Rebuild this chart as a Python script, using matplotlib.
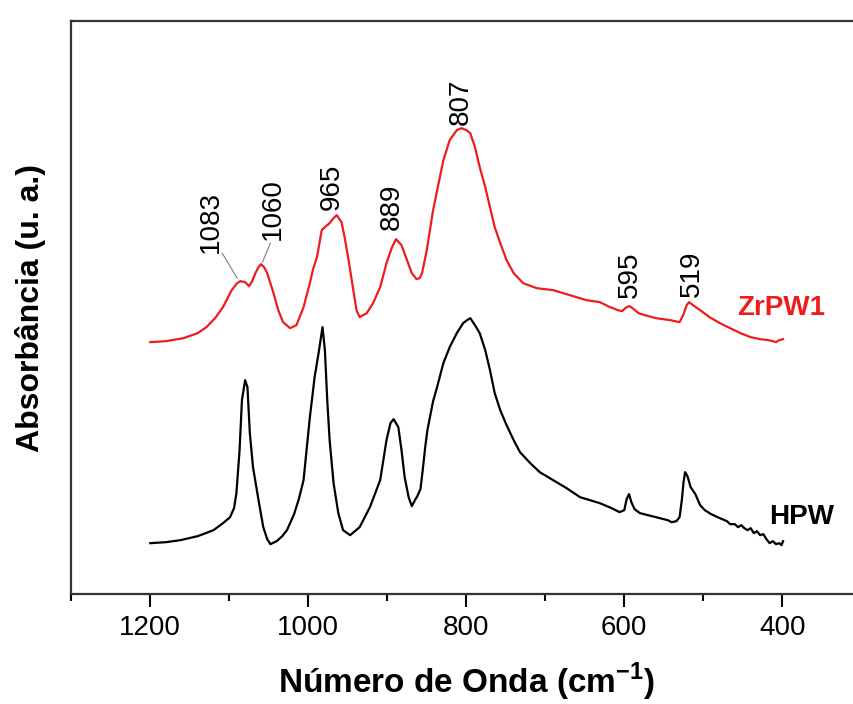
import numpy as np
import matplotlib.pyplot as plt

plt.rcParams['font.family'] = ['Liberation Sans', 'DejaVu Sans']

# ZrPW1 spectrum (red)
wn_zr = [1200, 1180, 1158, 1140, 1129, 1118, 1108, 1097, 1090, 1086, 1080, 1075, 1071,
         1067, 1063, 1060, 1056, 1052, 1044, 1038, 1032, 1023, 1015, 1006, 998, 994, 989,
         983, 979, 973, 968, 964, 958, 954, 949, 943, 939, 935, 926, 918, 909, 901, 894,
         889, 882, 875, 869, 863, 859, 856, 850, 848, 842, 835, 829, 821, 812, 806, 800,
         795, 789, 783, 776, 770, 764, 757, 749, 740, 728, 711, 690, 669, 648, 631, 618,
         608, 603, 597, 593, 588, 582, 574, 560, 542, 530, 525, 521, 518, 513, 504, 492,
         479, 466, 453, 440, 428, 418, 412, 408, 404, 399]
abs_zr = [2.52, 2.53, 2.56, 2.61, 2.67, 2.76, 2.87, 3.04, 3.11, 3.13, 3.12, 3.08, 3.13,
          3.21, 3.27, 3.30, 3.27, 3.21, 3.01, 2.84, 2.72, 2.66, 2.69, 2.87, 3.11, 3.25, 3.37,
          3.64, 3.67, 3.71, 3.76, 3.79, 3.72, 3.57, 3.34, 3.04, 2.84, 2.77, 2.81, 2.91, 3.07,
          3.31, 3.47, 3.55, 3.49, 3.34, 3.21, 3.15, 3.16, 3.21, 3.44, 3.54, 3.84, 4.11, 4.34,
          4.54, 4.64, 4.66, 4.64, 4.61, 4.47, 4.27, 4.07, 3.87, 3.67, 3.51, 3.34, 3.21, 3.11,
          3.06, 3.04, 2.99, 2.94, 2.92, 2.87, 2.84, 2.83, 2.87, 2.88, 2.85, 2.81, 2.79, 2.76,
          2.74, 2.72, 2.80, 2.89, 2.92, 2.89, 2.84, 2.77, 2.71, 2.66, 2.61, 2.57, 2.55, 2.54,
          2.53, 2.52, 2.54, 2.55]

# HPW spectrum (black)
wn_hpw = [1200, 1180, 1162, 1140, 1120, 1108, 1099, 1094, 1091, 1087, 1084, 1080, 1077,
          1074, 1070, 1063, 1057, 1052, 1048, 1040, 1033, 1027, 1018, 1012, 1006, 998, 992,
          987, 982, 979, 976, 973, 968, 962, 956, 947, 935, 922, 909, 901, 896, 892, 886,
          882, 878, 873, 869, 865, 862, 858, 855, 852, 849, 846, 842, 837, 829, 821, 812,
          804, 799, 795, 789, 783, 776, 770, 764, 757, 749, 740, 732, 719, 707, 690, 673,
          656, 631, 616, 606, 600, 597, 594, 591, 587, 580, 570, 555, 545, 540, 534, 530,
          527, 525, 523, 520, 516, 510, 504, 498, 490, 479, 470, 466, 460, 456, 452, 448,
          444, 440, 436, 432, 428, 424, 420, 416, 412, 408, 404, 401, 399]
abs_hpw = [0.51, 0.52, 0.54, 0.58, 0.64, 0.71, 0.77, 0.86, 1.01, 1.44, 1.94, 2.14, 2.07,
           1.61, 1.27, 0.94, 0.67, 0.55, 0.50, 0.53, 0.58, 0.64, 0.80, 0.95, 1.14, 1.77,
           2.17, 2.41, 2.67, 2.44, 1.94, 1.54, 1.11, 0.81, 0.64, 0.59, 0.67, 0.87, 1.14,
           1.54, 1.71, 1.75, 1.67, 1.44, 1.17, 0.97, 0.88, 0.94, 0.98, 1.05, 1.25, 1.47,
           1.65, 1.77, 1.93, 2.07, 2.31, 2.47, 2.61, 2.71, 2.74, 2.76, 2.69, 2.61, 2.44,
           2.24, 2.01, 1.84, 1.69, 1.54, 1.42, 1.31, 1.22, 1.14, 1.06, 0.97, 0.91, 0.86,
           0.82, 0.84, 0.95, 1.00, 0.92, 0.85, 0.81, 0.79, 0.76, 0.74, 0.72, 0.73, 0.77,
           0.95, 1.12, 1.22, 1.18, 1.07, 1.00, 0.89, 0.84, 0.80, 0.76, 0.73, 0.70, 0.70,
           0.67, 0.69, 0.66, 0.64, 0.66, 0.61, 0.63, 0.59, 0.60, 0.55, 0.51, 0.53, 0.50,
           0.51, 0.49, 0.53]

# peak labels on the ZrPW1 curve
peak_labels = ['1083', '1060', '965', '889', '807', '595', '519']
label_x = [1123, 1045, 970, 894, 807, 593, 514]
label_y = [3.41, 3.54, 3.84, 3.64, 4.69, 2.96, 2.97]

fig = plt.figure(figsize=(8.54, 7.04), dpi=100)
ax = fig.add_axes([0.0835, 0.156, 0.925, 0.814])

ax.plot(wn_zr, abs_zr, color='#ee1c1c', lw=1.6, solid_joinstyle='round')
ax.plot(wn_hpw, abs_hpw, color='black', lw=1.6, solid_joinstyle='round')

for lab, x, y in zip(peak_labels, label_x, label_y):
    ax.text(x, y, lab, rotation=90, ha='center', va='bottom', fontsize=20)

# leader lines for the two crowded labels
ax.plot([1109, 1090], [3.41, 3.16], color='grey', lw=0.8)
ax.plot([1048, 1058], [3.51, 3.32], color='grey', lw=0.8)

ax.text(457, 2.86, 'ZrPW1', color='#ee1c1c', fontsize=20, fontweight='bold', va='center')
ax.text(416, 0.77, 'HPW', color='black', fontsize=20, fontweight='bold', va='center')

ax.set_xlim(1300, 300)
ax.set_ylim(0, 5.73)
ax.set_xticks([1200, 1000, 800, 600, 400])
ax.set_xticks([1300, 1100, 900, 700, 500, 300], minor=True)
ax.set_yticks([])
ax.tick_params(axis='x', which='major', direction='out', length=9, width=1.5, labelsize=20, pad=6)
ax.tick_params(axis='x', which='minor', direction='out', length=5, width=1.5)
for side in ['left', 'bottom', 'top']:
    ax.spines[side].set_linewidth(1.6)
    ax.spines[side].set_color('#333333')
ax.spines['right'].set_visible(False)

ax.set_xlabel('Número de Onda (cm$^{\\mathregular{-1}}$)', fontsize=24, fontweight='bold', labelpad=14)
ax.set_ylabel('Absorbância (u. a.)', fontsize=23, fontweight='bold', labelpad=18)

fig.savefig('out.png', dpi=100)
